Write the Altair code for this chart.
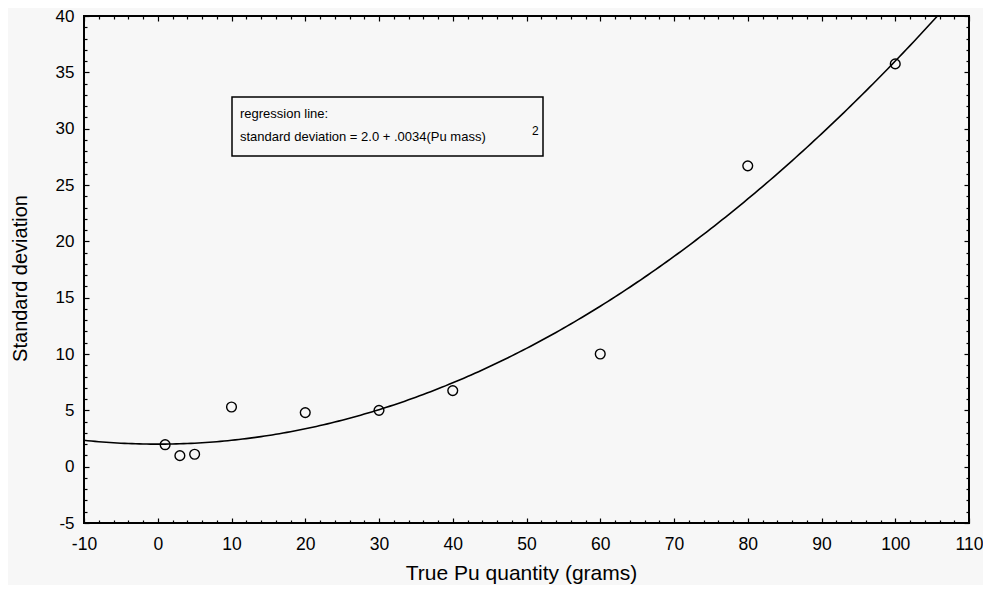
import altair as alt
import pandas as pd

# ---------------- data ----------------
mass = [1, 3, 5, 10, 20, 30, 40, 60, 80, 100]
std_dev = [1.95, 0.98, 1.1, 5.3, 4.8, 5.0, 6.75, 10.0, 26.7, 35.75]

# regression line stated on the chart: sd = 2.0 + .0034 * mass^2
intercept = 2.0
coefficient = 0.0034
curve_mass = [v * 0.5 for v in range(-20, 221)]
curve_sd = [intercept + coefficient * m * m for m in curve_mass]

x_major = [-10, 0, 10, 20, 30, 40, 50, 60, 70, 80, 90, 100, 110]
x_minor = [v for v in range(-10, 111, 2) if v % 10 != 0]
y_major = [-5, 0, 5, 10, 15, 20, 25, 30, 35, 40]
y_minor = [v for v in range(-5, 41) if v % 5 != 0]

legend_line1 = "regression line:"
legend_line2 = "standard deviation = 2.0 + .0034(Pu mass)"
legend_sup = "2"

x_title = "True Pu quantity (grams)"
y_title = "Standard deviation"

# ---------------- layout ----------------
W, H = 885, 507
XD = [-10, 110]
YD = [-5, 40]
FONT = "Liberation Sans"

pts_df = pd.DataFrame({"x": mass, "y": std_dev})
curve_df = pd.DataFrame({"x": curve_mass, "y": curve_sd})


def xenc(axis):
    return alt.X("x:Q", scale=alt.Scale(domain=XD, nice=False, zero=False), axis=axis, title=None)


def yenc(axis):
    return alt.Y("y:Q", scale=alt.Scale(domain=YD, nice=False, zero=False), axis=axis, title=None)


def tick_axis(orient, offset, values, size):
    return alt.Axis(orient=orient, offset=offset, values=values, tickSize=size,
                    labels=False, domain=False, ticks=True, grid=False,
                    tickColor="black", tickWidth=1.2)


label_x = alt.Axis(orient="bottom", values=x_major, ticks=False, tickSize=0, domain=False,
                   grid=False, labelPadding=12, labelFontSize=17.5, labelFont=FONT,
                   labelColor="black", labelFlush=False, labelOverlap=False,
                   labelExpr="'' + datum.value",
                   title=x_title, titleFontSize=21, titleFont=FONT, titleFontWeight="normal",
                   titleColor="black", titleY=56, titleX=437, titleBaseline="alphabetic",
                   titleAlign="center")
label_y = alt.Axis(orient="left", values=y_major, ticks=False, tickSize=0, domain=False,
                   grid=False, labelPadding=10, labelFontSize=17, labelFont=FONT,
                   labelColor="black", labelFlush=False, labelOverlap=False,
                   labelExpr="'' + datum.value",
                   title=y_title, titleFontSize=20, titleFont=FONT, titleFontWeight="normal",
                   titleColor="black", titleX=-58, titleY=262, titleAngle=270,
                   titleBaseline="alphabetic", titleAlign="center")

points = alt.Chart(pts_df).mark_point(
    shape="circle", filled=False, color="black", size=95, strokeWidth=1.4, opacity=1
).encode(
    x=alt.X("x:Q", scale=alt.Scale(domain=XD, nice=False, zero=False), axis=label_x),
    y=alt.Y("y:Q", scale=alt.Scale(domain=YD, nice=False, zero=False), axis=label_y),
)

curve = alt.Chart(curve_df).mark_line(color="black", strokeWidth=1.6, clip=True).encode(
    x=xenc(tick_axis("top", -H, x_major, 5)),
    y=yenc(tick_axis("right", -W, y_major, 5)),
    order="x:Q",
)

inv1 = alt.Chart(pts_df).mark_point(opacity=0).encode(
    x=xenc(tick_axis("top", -H, x_minor, 3)),
    y=yenc(tick_axis("right", -W, y_minor, 3)),
)
inv2 = alt.Chart(pts_df).mark_point(opacity=0).encode(
    x=xenc(tick_axis("bottom", -H, x_major, 5)),
    y=yenc(tick_axis("left", -W, y_major, 5)),
)
inv3 = alt.Chart(pts_df).mark_point(opacity=0).encode(
    x=xenc(tick_axis("bottom", -H, x_minor, 3)),
    y=yenc(tick_axis("left", -W, y_minor, 3)),
)

one = pd.DataFrame({"k": [0]})
box = alt.Chart(one).mark_rect(fillOpacity=0, stroke="black", strokeWidth=1.5).encode(
    x=alt.value(148), x2=alt.value(459), y=alt.value(81), y2=alt.value(140)
)
txt1 = alt.Chart(one).mark_text(align="left", baseline="alphabetic", font=FONT,
                                fontSize=13, color="black").encode(
    x=alt.value(156), y=alt.value(102), text=alt.value(legend_line1))
txt2 = alt.Chart(one).mark_text(align="left", baseline="alphabetic", font=FONT,
                                fontSize=13, color="black").encode(
    x=alt.value(156), y=alt.value(125), text=alt.value(legend_line2))
txt3 = alt.Chart(one).mark_text(align="left", baseline="alphabetic", font=FONT,
                                fontSize=12, color="black").encode(
    x=alt.value(448), y=alt.value(119), text=alt.value(legend_sup))

chart = alt.layer(points, curve, inv1, inv2, inv3, box, txt1, txt2, txt3).resolve_axis(
    x="independent", y="independent"
).properties(
    width=W, height=H,
    autosize=alt.AutoSizeParams(type="none"),
    padding={"left": 76, "top": 8, "right": 14, "bottom": 62},
    background="#f7f7f7",
).configure_view(
    stroke="black", strokeWidth=2, fill="#f7f7f7"
).configure_axis(grid=False)

chart.save("out.html", embed_options={"renderer": "svg", "actions": False})
